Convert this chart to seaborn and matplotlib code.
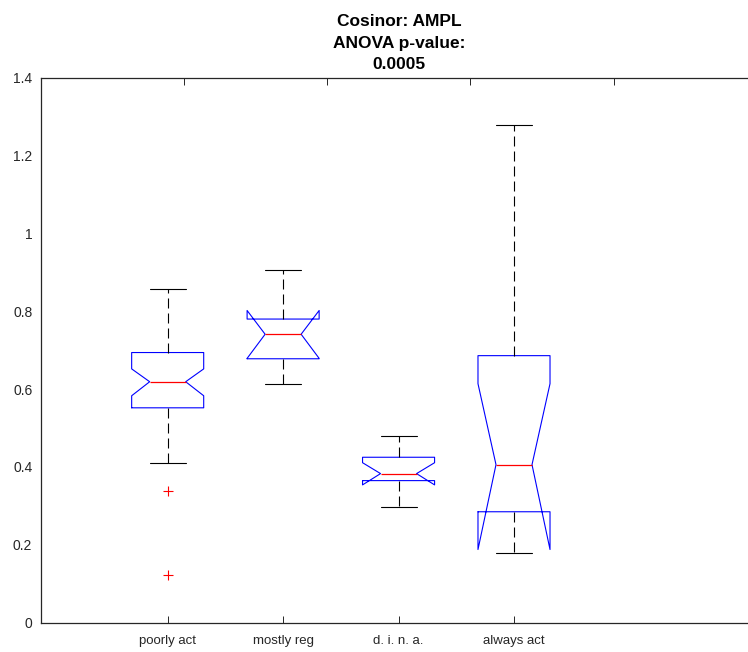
import matplotlib
matplotlib.use("Agg")
import matplotlib.pyplot as plt
import seaborn as sns

# ---- data ----
groups = ["poorly act", "mostly reg", "d. i. n. a.", "always act"]
medians = [0.619, 0.741, 0.383, 0.406]
q1_vals = [0.552, 0.678, 0.365, 0.285]
q3_vals = [0.694, 0.780, 0.425, 0.686]
whisker_lo = [0.411, 0.612, 0.298, 0.178]
whisker_hi = [0.858, 0.907, 0.480, 1.279]
notch_lo = [0.583, 0.679, 0.354, 0.188]
notch_hi = [0.652, 0.802, 0.411, 0.614]
outliers = [[0.339, 0.123], [], [], []]
y_ticks = [0, 0.2, 0.4, 0.6, 0.8, 1.0, 1.2, 1.4]
y_tick_labels = ["0", "0.2", "0.4", "0.6", "0.8", "1", "1.2", "1.4"]
title_text = "Cosinor: AMPL\nANOVA p-value:\n0.0005"

sns.set_style("white")
plt.rcParams["font.family"] = ["Liberation Sans", "DejaVu Sans"]
plt.rcParams["lines.scale_dashes"] = False

W, H = 748, 652
fig = plt.figure(figsize=(W / 100, H / 100), dpi=100)
left_px, right_px, top_px, bottom_px = 40.7, 757.0, 77.7, 622.7
ax = fig.add_axes([left_px / W, (H - bottom_px) / H,
                   (right_px - left_px) / W, (bottom_px - top_px) / H])

stats = []
for i, g in enumerate(groups):
    stats.append(dict(label=g, med=medians[i], q1=q1_vals[i], q3=q3_vals[i],
                      whislo=whisker_lo[i], whishi=whisker_hi[i],
                      cilo=notch_lo[i], cihi=notch_hi[i], fliers=outliers[i]))

positions = list(range(1, len(groups) + 1))
ax.bxp(stats, positions=positions, widths=0.624, shownotches=True,
       boxprops=dict(color="#0000ff", linewidth=0.8),
       medianprops=dict(color="#ff0000", linewidth=0.9),
       whiskerprops=dict(color="black", linewidth=0.8, linestyle=(0, (7.2, 3.6))),
       capprops=dict(color="black", linewidth=0.8),
       flierprops=dict(marker="+", markeredgecolor="#ff0000", markersize=7,
                       markeredgewidth=0.8, linestyle="none"))

ax.set_xlim(-0.100, 6.105)
ax.set_ylim(0, 1.4)
ax.set_xticks(positions)
ax.set_xticklabels(groups)
ax.set_yticks(y_ticks)
ax.set_yticklabels(y_tick_labels)

spine_col = "#262626"
for s in ["left", "bottom", "top", "right"]:
    ax.spines[s].set_color(spine_col)
    ax.spines[s].set_linewidth(0.9)
ax.tick_params(axis="both", direction="in", length=5, width=0.7,
               colors=spine_col, labelcolor="#262626")
ax.tick_params(axis="y", labelsize=10, pad=6)
ax.tick_params(axis="x", labelsize=9.5, pad=8.5)

# top tick marks (as in the reference)
ax2 = ax.twiny()
ax2.set_xlim(0, 5.0)
ax2.set_xticks([1, 2, 3, 4])
ax2.set_xticklabels([])
ax2.tick_params(axis="x", direction="in", length=5, width=0.7, colors=spine_col)
for s in ["left", "bottom", "right", "top"]:
    ax2.spines[s].set_visible(False)

ax.set_title(title_text, fontsize=12.5, fontweight="bold", color="black",
             pad=6, linespacing=1.55)

fig.savefig("out.png", dpi=100)
